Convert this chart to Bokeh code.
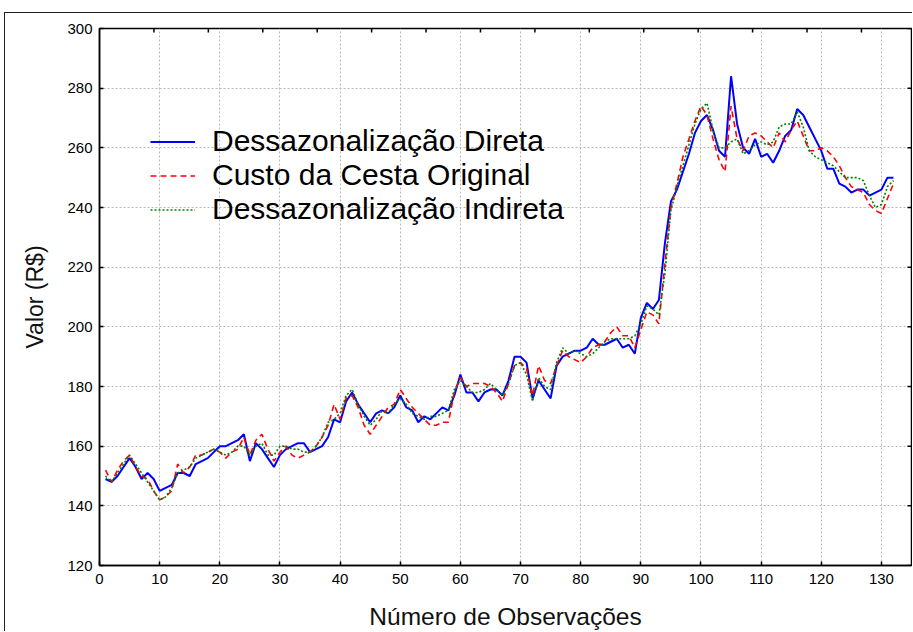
from bokeh.plotting import figure
from bokeh.models import (Range1d, LinearAxis, FixedTicker, Legend, LegendItem)
from bokeh.embed import file_html
from bokeh.resources import INLINE

# ---- data ----
obs = list(range(1, 133))

direta = [149, 148, 150, 153, 156, 153, 149, 151, 149, 145,
          146, 147, 151, 151, 150, 154, 155, 156, 158, 160,
          160, 161, 162, 164, 155, 161, 159, 156, 153, 157,
          159, 160, 161, 161, 158, 159, 160, 163, 169, 168,
          175, 178, 174, 171, 168, 171, 172, 171, 173, 177,
          173, 172, 168, 170, 169, 171, 173, 172, 177, 184,
          178, 178, 175, 178, 179, 179, 177, 182, 190, 190,
          188, 176, 182, 179, 176, 187, 190, 191, 192, 192,
          193, 196, 194, 194, 195, 196, 193, 194, 191, 203,
          208, 206, 209, 228, 242, 246, 252, 258, 265, 269,
          271, 266, 259, 257, 284, 268, 260, 258, 263, 257,
          258, 255, 259, 264, 266, 273, 271, 267, 263, 259,
          253, 253, 248, 247, 245, 246, 246, 244, 245, 246,
          250, 250]

original = [152, 148, 152, 155, 157, 153, 150, 149, 145, 142,
            143, 145, 154, 151, 153, 157, 157, 158, 159, 158,
            156, 158, 159, 163, 157, 162, 164, 159, 155, 158,
            160, 157, 156, 157, 158, 160, 163, 167, 174, 169,
            176, 177, 173, 167, 164, 167, 170, 173, 174, 179,
            176, 173, 171, 169, 167, 167, 168, 168, 178, 183,
            180, 181, 181, 181, 180, 178, 175, 181, 187, 188,
            186, 177, 187, 182, 181, 187, 192, 190, 189, 188,
            190, 193, 194, 195, 198, 200, 197, 197, 193, 199,
            205, 204, 201, 221, 240, 248, 257, 263, 269, 274,
            271, 263, 256, 252, 274, 263, 259, 264, 265, 264,
            262, 260, 265, 262, 266, 269, 264, 259, 259, 260,
            259, 257, 254, 250, 247, 246, 245, 241, 239, 238,
            243, 248]

indireta = [150, 148, 151, 154, 157, 154, 151, 148, 145, 142,
            143, 146, 151, 152, 153, 156, 157, 158, 159, 158,
            157, 158, 160, 160, 157, 160, 161, 157, 157, 160,
            160, 159, 159, 158, 158, 160, 163, 168, 169, 171,
            177, 179, 174, 170, 167, 169, 172, 171, 174, 176,
            174, 171, 170, 169, 170, 170, 171, 172, 179, 182,
            180, 178, 178, 179, 181, 179, 177, 181, 187, 188,
            184, 175, 183, 180, 179, 188, 193, 191, 192, 191,
            190, 191, 193, 195, 196, 196, 196, 196, 197, 201,
            207, 206, 204, 218, 239, 247, 254, 261, 268, 273,
            275, 266, 260, 260, 262, 263, 258, 259, 261, 262,
            261, 262, 267, 268, 268, 272, 267, 259, 257, 256,
            255, 254, 252, 250, 250, 250, 249, 244, 240, 241,
            247, 249]

x_ticks = [0, 10, 20, 30, 40, 50, 60, 70, 80, 90, 100, 110, 120, 130]
y_ticks = [120, 140, 160, 180, 200, 220, 240, 260, 280, 300]
top_tick_index = [1, 2, 3, 4, 5, 6, 7, 8, 9, 10, 11, 12, 13, 14]

labels = ["Dessazonalização Direta", "Custo da Cesta Original",
          "Dessazonalização Indireta"]

FONT = "Liberation Sans"
X0, X1, Y0, Y1 = 0, 135, 120, 300

p = figure(width=908, height=619, output_backend="svg", toolbar_location=None,
           x_range=Range1d(X0, X1), y_range=Range1d(Y0, Y1),
           x_axis_location=None, y_axis_location=None,
           min_border_left=94, min_border_right=2,
           min_border_top=15, min_border_bottom=67)
p.styles = {"margin-left": "4px", "margin-top": "12px",
            "border-left": "1px solid #222", "border-top": "1px solid #222"}
p.background_fill_color = "white"
p.border_fill_color = "white"
p.outline_line_color = "black"
p.outline_line_width = 1.5

left = LinearAxis(ticker=FixedTicker(ticks=y_ticks), axis_label="Valor (R$)")
bottom = LinearAxis(ticker=FixedTicker(ticks=x_ticks),
                    axis_label="Número de Observações")

for ax in (left, bottom):
    ax.axis_line_color = "black"
    ax.axis_line_width = 1.5
    ax.major_tick_in = 4
    ax.major_tick_out = 0
    ax.major_tick_line_color = "black"
    ax.major_tick_line_width = 1.5
    ax.minor_tick_line_color = None
    ax.major_label_text_font = FONT
    ax.major_label_text_font_size = "15px"
    ax.major_label_text_color = "black"
    ax.axis_label_text_font = FONT
    ax.axis_label_text_font_style = "normal"
    ax.axis_label_text_color = "#111111"

left.axis_label_text_font_size = "23px"
bottom.axis_label_text_font_size = "24.5px"
left.major_label_standoff = 7
left.axis_label_standoff = 16
bottom.major_label_standoff = 8
bottom.axis_label_standoff = 16

p.add_layout(left, "left")
p.add_layout(bottom, "below")

p.xgrid.ticker = FixedTicker(ticks=x_ticks)
p.ygrid.ticker = FixedTicker(ticks=y_ticks)
for g in (p.xgrid, p.ygrid):
    g.grid_line_color = "#b8b8b8"
    g.grid_line_dash = "2 2"
    g.grid_line_width = 1

# inward ticks on the right and top frame edges (4 px long)
ux = (X1 - X0) / 812.0
uy = (Y1 - Y0) / 537.0
step_top = (X1 - X0) / 14.92
top_pos = [k * step_top for k in top_tick_index]
p.segment(x0=[X1] * len(y_ticks), x1=[X1 - 4 * ux] * len(y_ticks),
          y0=y_ticks, y1=y_ticks, line_color="black", line_width=1.5)
p.segment(x0=top_pos, x1=top_pos, y0=[Y1] * len(top_pos),
          y1=[Y1 - 4 * uy] * len(top_pos), line_color="black", line_width=1.5)

r1 = p.line(obs, direta, line_color="#0000ff", line_width=2)
r2 = p.line(obs, original, line_color="#ff0000", line_width=1.6,
            line_dash="6 4")
r3 = p.line(obs, indireta, line_color="#008000", line_width=1.6,
            line_dash="2 2")

legend = Legend(items=[LegendItem(label=labels[0], renderers=[r1]),
                       LegendItem(label=labels[1], renderers=[r2]),
                       LegendItem(label=labels[2], renderers=[r3])],
                location=(51, 339), orientation="vertical",
                glyph_width=45, glyph_height=33, label_height=33,
                label_standoff=17, spacing=0, padding=0, margin=0,
                border_line_color=None, background_fill_alpha=0,
                label_text_font=FONT, label_text_font_size="30px",
                label_text_color="black")
p.add_layout(legend, "center")

open("out.html", "w").write(file_html(p, INLINE))
